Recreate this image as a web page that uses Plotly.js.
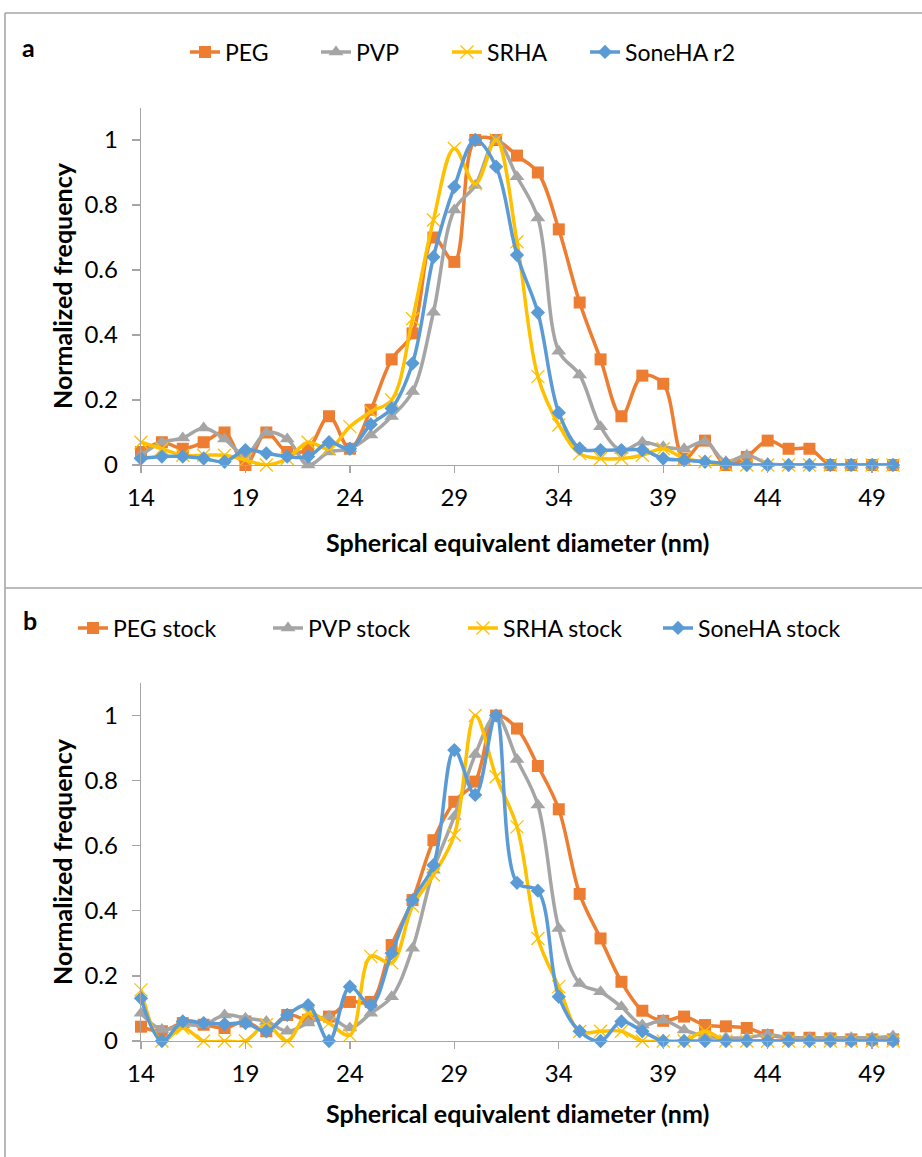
<!DOCTYPE html>
<html>
<head>
<meta charset="utf-8">
<script src="https://cdn.plot.ly/plotly-3.0.1.min.js"></script>
<style>
  html, body { margin: 0; padding: 0; background: #fff; }
  #chart { width: 922px; height: 1157px; }
</style>
</head>
<body>
<div id="chart"></div>
<script>
// Particle size bins (nm)
const diameters = [];
for (let d = 14; d <= 50; d++) diameters.push(d);

// Panel a: normalized frequency per bin
const pegA = [0.04, 0.07, 0.05, 0.07, 0.10, 0.0, 0.10, 0.04, 0.05, 0.15,
  0.05, 0.17, 0.325, 0.405, 0.70, 0.625, 1.0, 1.0, 0.952, 0.90,
  0.725, 0.50, 0.325, 0.15, 0.275, 0.25, 0.02, 0.075, 0.0, 0.025,
  0.075, 0.05, 0.05, 0, 0, 0, 0];
const pvpA = [0.03, 0.07, 0.083, 0.114, 0.08, 0.03, 0.10, 0.08, 0.0, 0.04,
  0.05, 0.092, 0.149, 0.226, 0.47, 0.785, 0.86, 1.0, 0.887, 0.76,
  0.35, 0.277, 0.118, 0.045, 0.07, 0.056, 0.05, 0.072, 0.01, 0.03,
  0.005, 0, 0, 0, 0, 0, 0];
const srhaA = [0.07, 0.05, 0.03, 0.03, 0.03, 0.015, 0.0, 0.02, 0.07, 0.05,
  0.118, 0.164, 0.20, 0.45, 0.754, 0.974, 0.865, 1.0, 0.687, 0.272,
  0.123, 0.035, 0.02, 0.02, 0.03, 0.05, 0.02, 0.01, 0, 0,
  0, 0, 0, 0, 0, 0, 0];
const soneA = [0.02, 0.026, 0.026, 0.02, 0.01, 0.046, 0.036, 0.026, 0.026, 0.07,
  0.05, 0.125, 0.174, 0.313, 0.64, 0.856, 1.0, 0.918, 0.646, 0.469,
  0.161, 0.051, 0.046, 0.046, 0.046, 0.02, 0.015, 0.01, 0.005, 0,
  0, 0, 0, 0, 0, 0, 0];

// Panel b: stock suspensions
const pegB = [0.044, 0.03, 0.055, 0.05, 0.04, 0.06, 0.03, 0.08, 0.065, 0.075,
  0.12, 0.12, 0.295, 0.433, 0.617, 0.735, 0.797, 1.0, 0.96, 0.845,
  0.712, 0.452, 0.315, 0.182, 0.093, 0.062, 0.075, 0.049, 0.045, 0.04,
  0.018, 0.01, 0.01, 0.008, 0.005, 0.005, 0.005];
const pvpB = [0.085, 0.035, 0.05, 0.05, 0.08, 0.07, 0.06, 0.03, 0.055, 0.075,
  0.04, 0.085, 0.136, 0.285, 0.525, 0.69, 0.88, 1.0, 0.865, 0.725,
  0.346, 0.177, 0.151, 0.105, 0.049, 0.064, 0.034, 0.015, 0.01, 0.01,
  0.02, 0.01, 0.01, 0.01, 0.01, 0.01, 0.015];
const srhaB = [0.157, 0, 0.04, 0, 0, 0, 0.05, 0, 0.085, 0.055,
  0.018, 0.26, 0.24, 0.415, 0.51, 0.633, 1.0, 0.812, 0.658, 0.315,
  0.167, 0.029, 0.03, 0.03, 0, 0, 0, 0.03, 0, 0,
  0, 0, 0, 0, 0, 0, 0];
const soneB = [0.131, 0, 0.06, 0.055, 0.052, 0.055, 0.03, 0.08, 0.11, 0,
  0.167, 0.11, 0.27, 0.433, 0.54, 0.894, 0.756, 1.0, 0.486, 0.462,
  0.136, 0.03, 0.0, 0.06, 0.03, 0, 0, 0, 0, 0,
  0, 0, 0, 0, 0, 0, 0];

const namesA = ['PEG', 'PVP', 'SRHA', 'SoneHA r2'];
const namesB = ['PEG stock', 'PVP stock', 'SRHA stock', 'SoneHA stock'];
const xTicks = [14, 19, 24, 29, 34, 39, 44, 49];
const yTicks = [0, 0.2, 0.4, 0.6, 0.8, 1];
const yTickText = ['0', '0.2', '0.4', '0.6', '0.8', '1'];

const W = 922, H = 1157;
const FONT = 'Lato, "Open Sans", sans-serif';
const GRAY = '#A6A6A6';

const styles = [
  { color: '#ED7D31', symbol: 'square', size: 12, lw: 0 },
  { color: '#A5A5A5', symbol: 'triangle-up', size: 13, lw: 0 },
  { color: '#FFC000', symbol: 'x-thin', size: 13, lw: 1.3 },
  { color: '#5B9BD5', symbol: 'diamond', size: 11, lw: 0 }
];

function makeTrace(y, name, st, xa, ya, legend) {
  return {
    x: diameters, y: y, name: name, type: 'scatter', mode: 'lines+markers',
    xaxis: xa, yaxis: ya, legend: legend,
    line: { color: st.color, width: 3.5, shape: 'spline', smoothing: 1 },
    marker: { symbol: st.symbol, size: st.size, color: st.color,
      line: { color: st.color, width: st.lw } },
    cliponaxis: false
  };
}

// panel a: first three entries share one legend row, the last one sits in its own
const legendOfA = ['legend', 'legend', 'legend', 'legend3'];
const seriesA = [pegA, pvpA, srhaA, soneA];
const seriesB = [pegB, pvpB, srhaB, soneB];
const traces = [];
seriesA.forEach((s, i) => traces.push(makeTrace(s, namesA[i], styles[i], 'x', 'y', legendOfA[i])));
seriesB.forEach((s, i) => traces.push(makeTrace(s, namesB[i], styles[i], 'x2', 'y2', 'legend2')));

// pixel helpers for paper coordinates
const px = v => v / W;
const py = v => 1 - v / H;

const xLeft = 141, xRight = 893;
const aTop = 107.5, aBot = 465;
const bTop = 683, bBot = 1041;

function xAxis(anchor) {
  return {
    domain: [px(xLeft), px(xRight)], anchor: anchor,
    range: [14, 50], tickvals: xTicks, ticktext: xTicks.map(String),
    ticks: 'outside', ticklen: 7, tickcolor: GRAY, tickwidth: 1.3,
    showline: true, linecolor: GRAY, linewidth: 1.3,
    showgrid: false, zeroline: false,
    tickfont: { family: FONT, size: 24, color: '#000' },
    ticklabelstandoff: 4
  };
}
function yAxis(anchor, top, bot) {
  return {
    domain: [py(bot), py(top)], anchor: anchor,
    range: [0, 1.1], tickvals: yTicks, ticktext: yTickText,
    ticks: 'outside', ticklen: 8, tickcolor: GRAY, tickwidth: 1.3,
    showline: true, linecolor: GRAY, linewidth: 1.3,
    showgrid: false, zeroline: false,
    tickfont: { family: FONT, size: 24, color: '#000' },
    ticklabelstandoff: 9
  };
}

const legendBase = {
  orientation: 'h', xanchor: 'left', yanchor: 'middle',
  font: { family: FONT, size: 23, color: '#000' },
  bgcolor: 'rgba(0,0,0,0)', itemclick: false, traceorder: 'normal'
};

const titleFont = { family: FONT, size: 25, color: '#000' };

function note(text, x, y, extra) {
  return Object.assign({
    text: text, x: px(x), y: py(y), xref: 'paper', yref: 'paper', showarrow: false,
    xanchor: 'center', yanchor: 'middle', font: titleFont
  }, extra || {});
}

const annotations = [
  note('<b>a</b>', 28, 47, { font: { family: FONT, size: 25, color: '#000' } }),
  note('<b>b</b>', 30, 620, { font: { family: FONT, size: 25, color: '#000' } }),
  note('<b>Spherical equivalent diameter (nm)</b>', 517, 542),
  note('<b>Spherical equivalent diameter (nm)</b>', 517, 1113),
  note('<b>Normalized frequency</b>', 62, 286, { textangle: -90 }),
  note('<b>Normalized frequency</b>', 62, 862, { textangle: -90 })
];

const frame = { type: 'line', xref: 'paper', yref: 'paper', line: { color: GRAY, width: 1.6 } };
const shapes = [
  Object.assign({}, frame, { x0: px(5), x1: px(5), y0: py(13), y1: 0 }),
  Object.assign({}, frame, { x0: px(5), x1: 1, y0: py(13), y1: py(13) }),
  Object.assign({}, frame, { x0: px(5), x1: 1, y0: py(588), y1: py(588) })
];

const layout = {
  width: W, height: H, autosize: false,
  margin: { l: 0, r: 0, t: 0, b: 0, pad: 0 },
  paper_bgcolor: '#fff', plot_bgcolor: '#fff',
  showlegend: true,
  xaxis: xAxis('y'), yaxis: yAxis('x', aTop, aBot),
  xaxis2: xAxis('y2'), yaxis2: yAxis('x2', bTop, bBot),
  legend: Object.assign({}, legendBase, { x: px(185), y: py(52), entrywidth: 86, entrywidthmode: 'pixels' }),
  legend3: Object.assign({}, legendBase, { x: px(585), y: py(52) }),
  legend2: Object.assign({}, legendBase, { x: px(73), y: py(628), entrywidth: 150, entrywidthmode: 'pixels' }),
  annotations: annotations,
  shapes: shapes
};

Plotly.newPlot('chart', traces, layout, { staticPlot: true, displayModeBar: false });
</script>
</body>
</html>
